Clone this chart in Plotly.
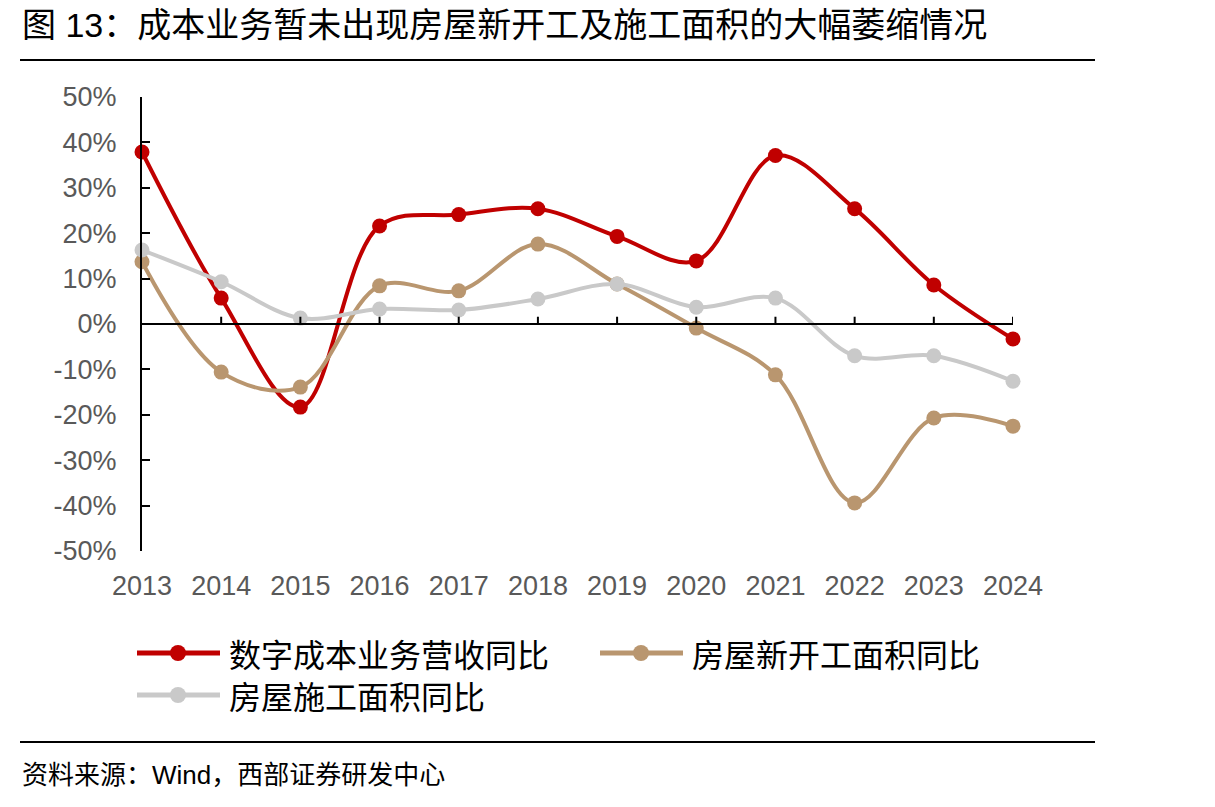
import plotly.graph_objects as go

years = [2013, 2014, 2015, 2016, 2017, 2018, 2019, 2020, 2021, 2022, 2023, 2024]
revenue_yoy = [37.9, 5.7, -18.3, 21.6, 24.1, 25.4, 19.3, 13.9, 37.1, 25.4, 8.6, -3.3]
new_start_yoy = [13.7, -10.6, -13.9, 8.4, 7.3, 17.6, 8.8, -0.9, -11.2, -39.4, -20.7, -22.5]
construction_yoy = [16.3, 9.3, 1.3, 3.3, 3.1, 5.5, 8.8, 3.7, 5.7, -7.0, -7.0, -12.6]
y_ticks = [-50, -40, -30, -20, -10, 0, 10, 20, 30, 40, 50]
y_tick_text = ["-50%", "-40%", "-30%", "-20%", "-10%", "0%", "10%", "20%", "30%", "40%", "50%"]

names = ["数字成本业务营收同比", "房屋新开工面积同比", "房屋施工面积同比"]
colors = ["#C00000", "#B9966F", "#C9C9C9"]
series = [revenue_yoy, new_start_yoy, construction_yoy]

W, H = 1215, 807
L, R, T, B = 142, 1013, 97, 551

def px(x):
    return (x - L) / (R - L)

def py(y):
    return (B - y) / (B - T)

CJK = "Noto Sans CJK SC"
LAT = "Liberation Sans, Arial, sans-serif"
MIX = "Liberation Sans, Noto Sans CJK SC"

fig = go.Figure()
for name, col, vals in zip(names, colors, series):
    fig.add_trace(go.Scatter(
        x=years, y=vals, name=name, mode="lines+markers",
        line=dict(color=col, width=4, shape="spline", smoothing=1.0),
        marker=dict(color=col, size=15),
        cliponaxis=False, showlegend=False,
    ))

shapes = []
shapes.append(dict(type="line", xref="x", yref="y", x0=years[0], x1=years[-1], y0=0, y1=0,
                   line=dict(color="black", width=2)))
for yr in years[1:]:
    shapes.append(dict(type="line", xref="x", yref="y", x0=yr, x1=yr, y0=0, y1=1.6,
                       line=dict(color="black", width=2)))
shapes.append(dict(type="line", xref="paper", yref="paper", x0=px(20), x1=px(1095), y0=py(60), y1=py(60),
                   line=dict(color="black", width=2)))
shapes.append(dict(type="line", xref="paper", yref="paper", x0=px(20), x1=px(1095), y0=py(742), y1=py(742),
                   line=dict(color="black", width=2)))

annotations = []
legend_pos = [(137, 653), (600, 653), (137, 695)]
for (lx, ly), name, col in zip(legend_pos, names, colors):
    shapes.append(dict(type="line", xref="paper", yref="paper", x0=px(lx), x1=px(lx + 83),
                       y0=py(ly), y1=py(ly), line=dict(color=col, width=5)))
    shapes.append(dict(type="circle", xref="paper", yref="paper", xsizemode="pixel", ysizemode="pixel",
                       xanchor=px(lx + 41), yanchor=py(ly), x0=-8, x1=8, y0=-8, y1=8,
                       fillcolor=col, line=dict(color=col, width=0)))
    annotations.append(dict(text=name, xref="paper", yref="paper", x=px(lx + 90), y=py(ly),
                            xanchor="left", yanchor="middle", showarrow=False,
                            font=dict(family=CJK, size=32, color="black")))

annotations.append(dict(text="图 13：成本业务暂未出现房屋新开工及施工面积的大幅萎缩情况",
                        xref="paper", yref="paper", x=px(20), y=py(25), xanchor="left", yanchor="middle",
                        showarrow=False, font=dict(family=MIX, size=34, color="black")))
annotations.append(dict(text="资料来源：Wind，西部证券研发中心",
                        xref="paper", yref="paper", x=px(20), y=py(775), xanchor="left", yanchor="middle",
                        showarrow=False, font=dict(family=MIX, size=26, color="black")))

fig.update_layout(
    width=W, height=H,
    margin=dict(l=L, r=W - R, t=T, b=H - B, pad=0),
    paper_bgcolor="white", plot_bgcolor="white",
    showlegend=False,
    shapes=shapes, annotations=annotations,
    xaxis=dict(range=[2013, 2024], tickvals=years, ticktext=[str(y) for y in years],
               showgrid=False, zeroline=False, showline=False, ticks="",
               tickfont=dict(family=LAT, size=27, color="#595959"), ticklabelstandoff=16),
    yaxis=dict(range=[-50, 50], tickvals=y_ticks, ticktext=y_tick_text, showgrid=False, zeroline=False,
               showline=True, linecolor="black", linewidth=2, ticks="inside", ticklen=8,
               tickwidth=2, tickcolor="black",
               tickfont=dict(family=LAT, size=27, color="#595959"), ticklabelstandoff=18),
)

fig.write_html("out.html")
